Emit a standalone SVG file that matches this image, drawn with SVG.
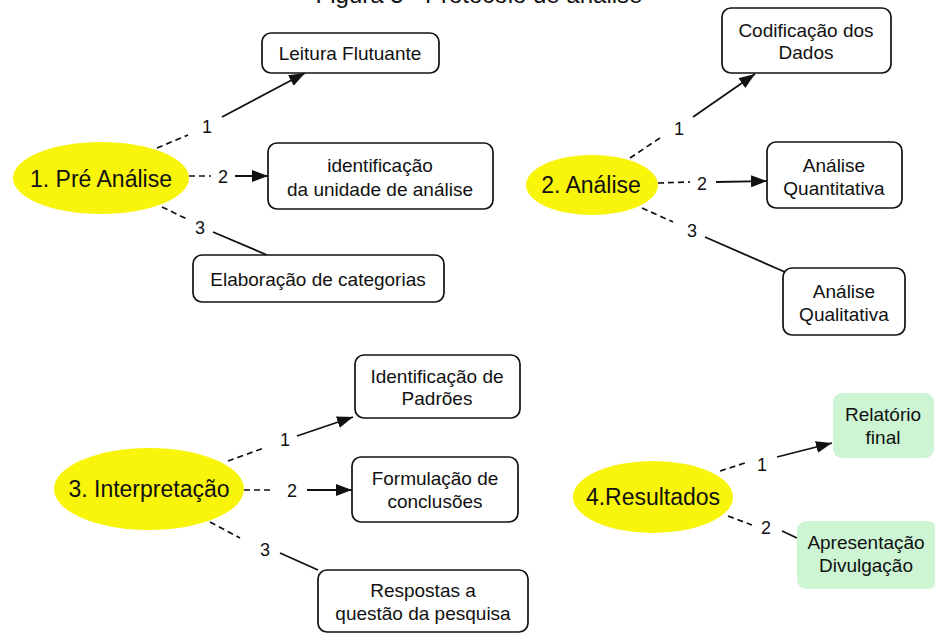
<svg xmlns="http://www.w3.org/2000/svg" width="935" height="634" viewBox="0 0 935 634">
<defs>
<style>
text{font-family:"Liberation Sans",Arial,sans-serif;fill:#111;text-anchor:middle}
.t{font-size:19px}
.e{font-size:23px}
.n{font-size:18px}
.box{fill:#fff;stroke:#111;stroke-width:1.7}
.green{fill:#cdf5d4;stroke:none}
.ell{fill:#f8f40a}
.dash{stroke:#111;stroke-width:1.7;stroke-dasharray:6 4;fill:none}
.solid{stroke:#111;stroke-width:1.8;fill:none}
</style>
<marker id="arrow" viewBox="0 0 16 12" refX="16" refY="6" markerWidth="16" markerHeight="12" markerUnits="userSpaceOnUse" orient="auto">
<path d="M0,0 L16,6 L0,12 z" fill="#111"/>
</marker>
</defs>
<rect width="935" height="634" fill="#fff"/>
<text x="479" y="3" style="font-size:24px">Figura 5 - Protocolo de análise</text>

<g id="connectors">
<path class="dash" d="M157,148 L188,135"/>
<text class="n" x="207" y="133">1</text>
<path class="solid" d="M222,117 L305,73" marker-end="url(#arrow)"/>
<path class="dash" d="M189,176 L211,176"/>
<text class="n" x="223" y="183">2</text>
<path class="solid" d="M235,176 L268,176" marker-end="url(#arrow)"/>
<path class="dash" d="M162,207 L189,220"/>
<text class="n" x="200" y="234">3</text>
<path class="solid" d="M213,232 L267,255"/>

<path class="dash" d="M630,158 L660,138"/>
<text class="n" x="679" y="135">1</text>
<path class="solid" d="M693,117 L755,74" marker-end="url(#arrow)"/>
<path class="dash" d="M658,183 L690,182"/>
<text class="n" x="702" y="190">2</text>
<path class="solid" d="M716,182 L767,181" marker-end="url(#arrow)"/>
<path class="dash" d="M642,208 L673,222"/>
<text class="n" x="692" y="237">3</text>
<path class="solid" d="M705,237 L785,272"/>

<path class="dash" d="M228,461 L264,448"/>
<text class="n" x="285" y="446">1</text>
<path class="solid" d="M297,436 L353,417" marker-end="url(#arrow)"/>
<path class="dash" d="M244,490 L274,490"/>
<text class="n" x="292" y="497">2</text>
<path class="solid" d="M307,490 L352,490" marker-end="url(#arrow)"/>
<path class="dash" d="M210,522 L240,538"/>
<text class="n" x="265" y="556">3</text>
<path class="solid" d="M280,553 L318,570"/>

<path class="dash" d="M720,471 L748,462"/>
<text class="n" x="762" y="471">1</text>
<path class="solid" d="M777,457 L832,443" marker-end="url(#arrow)"/>
<path class="dash" d="M728,516 L752,525"/>
<text class="n" x="766" y="534">2</text>
<path class="solid" d="M782,531 L797,538"/>
</g>

<g id="pre-analise">
<ellipse class="ell" cx="101" cy="178" rx="88" ry="36"/>
<text class="e" x="101" y="187">1. Pré Análise</text>
</g>
<g id="leitura-flutuante">
<rect class="box" x="262" y="33" width="177" height="40" rx="9"/>
<text class="t" x="350" y="60">Leitura Flutuante</text>
</g>
<g id="identificacao-unidade">
<rect class="box" x="268" y="143" width="225" height="66" rx="9"/>
<text class="t" x="380" y="172">identificação</text>
<text class="t" x="380" y="196">da unidade de análise</text>
</g>
<g id="elaboracao-categorias">
<rect class="box" x="193" y="255" width="251" height="47" rx="9"/>
<text class="t" x="318" y="286">Elaboração de categorias</text>
</g>

<g id="analise">
<ellipse class="ell" cx="592" cy="185" rx="66" ry="30"/>
<text class="e" x="591" y="193">2. Análise</text>
</g>
<g id="codificacao-dados">
<rect class="box" x="722" y="8" width="169" height="65" rx="9"/>
<text class="t" x="806" y="37">Codificação dos</text>
<text class="t" x="806" y="59">Dados</text>
</g>
<g id="analise-quantitativa">
<rect class="box" x="767" y="142" width="135" height="66" rx="9"/>
<text class="t" x="834" y="172">Análise</text>
<text class="t" x="834" y="195">Quantitativa</text>
</g>
<g id="analise-qualitativa">
<rect class="box" x="783" y="268" width="122" height="67" rx="9"/>
<text class="t" x="844" y="298">Análise</text>
<text class="t" x="844" y="321">Qualitativa</text>
</g>

<g id="interpretacao">
<ellipse class="ell" cx="149" cy="489" rx="95" ry="41"/>
<text class="e" x="149" y="497">3. Interpretação</text>
</g>
<g id="identificacao-padroes">
<rect class="box" x="355" y="355" width="165" height="63" rx="9"/>
<text class="t" x="437" y="383">Identificação de</text>
<text class="t" x="437" y="405">Padrões</text>
</g>
<g id="formulacao-conclusoes">
<rect class="box" x="352" y="457" width="166" height="65" rx="9"/>
<text class="t" x="435" y="485">Formulação de</text>
<text class="t" x="435" y="508">conclusões</text>
</g>
<g id="respostas-questao">
<rect class="box" x="318" y="570" width="210" height="62" rx="9"/>
<text class="t" x="423" y="597">Respostas a</text>
<text class="t" x="423" y="620">questão da pesquisa</text>
</g>

<g id="resultados">
<ellipse class="ell" cx="653" cy="497" rx="80" ry="36"/>
<text class="e" x="653" y="505">4.Resultados</text>
</g>
<g id="relatorio-final">
<rect class="green" x="833" y="393" width="101" height="65" rx="9"/>
<text class="t" x="883" y="421">Relatório</text>
<text class="t" x="883" y="444">final</text>
</g>
<g id="apresentacao-divulgacao">
<rect class="green" x="797" y="521" width="140" height="68" rx="9"/>
<text class="t" x="866" y="549">Apresentação</text>
<text class="t" x="866" y="572">Divulgação</text>
</g>
</svg>
